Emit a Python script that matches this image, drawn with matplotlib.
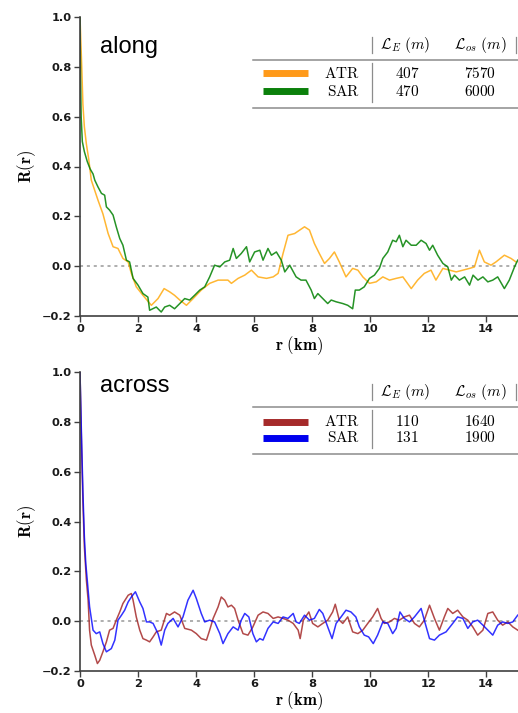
import numpy as np
import matplotlib as mpl
mpl.use('Agg')
import matplotlib.pyplot as plt
from matplotlib.lines import Line2D

plt.rcParams['mathtext.fontset'] = 'cm'

# autocorrelation R(r) read as (r [km], R) pairs
along_atr = [(0, 1.0), (0.03, 0.90), (0.06, 0.80), (0.10, 0.65), (0.15, 0.56), (0.22, 0.49),
             (0.30, 0.43), (0.39, 0.345), (0.62, 0.265), (0.79, 0.21), (0.97, 0.131), (1.14, 0.078),
             (1.31, 0.071), (1.48, 0.031), (1.66, 0.017), (1.77, -0.029), (1.94, -0.083), (2.17, -0.117),
             (2.46, -0.157), (2.69, -0.130), (2.90, -0.090), (3.09, -0.103), (3.26, -0.117), (3.44, -0.136),
             (3.67, -0.157), (3.90, -0.130), (4.18, -0.096), (4.47, -0.069), (4.76, -0.056), (5.10, -0.056),
             (5.22, -0.069), (5.45, -0.049), (5.68, -0.036), (5.91, -0.016), (6.14, -0.043), (6.43, -0.049),
             (6.66, -0.043), (6.83, -0.029), (7.00, 0.051), (7.17, 0.124), (7.40, 0.131), (7.74, 0.158),
             (7.91, 0.145), (8.08, 0.091), (8.25, 0.051), (8.43, 0.011), (8.60, 0.031), (8.77, 0.057),
             (8.94, 0.017), (9.17, -0.043), (9.40, -0.009), (9.58, -0.016), (9.75, -0.043), (9.98, -0.069),
             (10.21, -0.063), (10.44, -0.043), (10.67, -0.056), (10.90, -0.049), (11.13, -0.043), (11.42, -0.090),
             (11.64, -0.056), (11.87, -0.029), (12.10, -0.016), (12.27, -0.056), (12.51, -0.009), (12.74, -0.016),
             (12.97, -0.023), (13.20, -0.016), (13.43, -0.009), (13.60, -0.003), (13.77, 0.064), (13.94, 0.017),
             (14.17, 0.004), (14.34, 0.017), (14.63, 0.044), (14.86, 0.031), (15.03, 0.017)]

along_sar = [(0, 1.0), (0.02, 0.75), (0.04, 0.60), (0.08, 0.50), (0.15, 0.46), (0.25, 0.42),
             (0.35, 0.39), (0.45, 0.37), (0.51, 0.345), (0.62, 0.318), (0.74, 0.292), (0.85, 0.285),
             (0.91, 0.238), (1.02, 0.225), (1.14, 0.205), (1.25, 0.158), (1.37, 0.111), (1.48, 0.084),
             (1.60, 0.024), (1.71, 0.017), (1.83, -0.049), (2.00, -0.076), (2.17, -0.110), (2.34, -0.124),
             (2.40, -0.177), (2.63, -0.164), (2.80, -0.184), (2.92, -0.164), (3.09, -0.157), (3.26, -0.171),
             (3.44, -0.150), (3.61, -0.130), (3.78, -0.136), (3.95, -0.117), (4.13, -0.096), (4.30, -0.083),
             (4.47, -0.043), (4.64, 0.004), (4.82, -0.003), (4.99, 0.017), (5.16, 0.024), (5.28, 0.071),
             (5.39, 0.031), (5.56, 0.051), (5.74, 0.078), (5.85, 0.017), (6.02, 0.057), (6.20, 0.064),
             (6.31, 0.024), (6.48, 0.071), (6.60, 0.044), (6.77, 0.057), (6.94, 0.024), (7.06, -0.023),
             (7.23, 0.004), (7.45, -0.043), (7.62, -0.056), (7.79, -0.056), (7.97, -0.096), (8.08, -0.130),
             (8.20, -0.110), (8.37, -0.130), (8.54, -0.150), (8.66, -0.136), (8.83, -0.143), (9.06, -0.150),
             (9.23, -0.157), (9.40, -0.171), (9.49, -0.096), (9.63, -0.096), (9.80, -0.083), (9.98, -0.049),
             (10.15, -0.036), (10.32, -0.009), (10.44, 0.031), (10.61, 0.057), (10.78, 0.104), (10.90, 0.098),
             (11.01, 0.124), (11.13, 0.078), (11.24, 0.104), (11.42, 0.084), (11.59, 0.084), (11.76, 0.104),
             (11.93, 0.091), (12.05, 0.064), (12.16, 0.084), (12.33, 0.044), (12.51, 0.011), (12.68, -0.003),
             (12.80, -0.056), (12.91, -0.036), (13.08, -0.056), (13.26, -0.043), (13.43, -0.076), (13.55, -0.036),
             (13.72, -0.056), (13.89, -0.043), (14.06, -0.063), (14.23, -0.056), (14.40, -0.043), (14.63, -0.090),
             (14.80, -0.056), (14.98, -0.003), (15.09, 0.024)]

across_atr = [(0, 1.0), (0.05, 0.72), (0.10, 0.48), (0.15, 0.30), (0.22, 0.165), (0.28, 0.084),
              (0.33, -0.036), (0.39, -0.096), (0.51, -0.137), (0.60, -0.170), (0.68, -0.157), (0.79, -0.123),
              (0.91, -0.083), (1.02, -0.036), (1.14, -0.029), (1.25, 0.004), (1.37, 0.037), (1.48, 0.071),
              (1.66, 0.104), (1.77, 0.111), (1.83, 0.084), (1.94, 0.017), (2.06, -0.036), (2.17, -0.070),
              (2.29, -0.076), (2.40, -0.083), (2.52, -0.063), (2.63, -0.043), (2.80, -0.036), (2.98, 0.031),
              (3.09, 0.024), (3.26, 0.037), (3.44, 0.024), (3.61, -0.029), (3.84, -0.036), (4.01, -0.050),
              (4.18, -0.070), (4.36, -0.076), (4.47, -0.036), (4.59, 0.011), (4.76, 0.057), (4.87, 0.097),
              (4.99, 0.084), (5.10, 0.057), (5.22, 0.064), (5.33, 0.051), (5.45, 0.004), (5.62, -0.050),
              (5.79, -0.056), (5.96, -0.023), (6.14, 0.024), (6.31, 0.037), (6.48, 0.031), (6.66, 0.011),
              (6.83, 0.017), (7.00, 0.011), (7.17, 0.004), (7.35, -0.009), (7.52, -0.036), (7.59, -0.070),
              (7.70, 0.004), (7.89, 0.037), (8.02, -0.009), (8.20, -0.023), (8.37, -0.009), (8.54, 0.004),
              (8.71, 0.037), (8.80, 0.068), (8.94, 0.004), (9.06, -0.009), (9.23, 0.017), (9.40, -0.043),
              (9.58, -0.050), (9.75, -0.036), (9.92, -0.009), (10.09, 0.017), (10.26, 0.051), (10.38, 0.011),
              (10.49, -0.009), (10.67, -0.003), (10.84, 0.011), (11.01, 0.004), (11.18, 0.017), (11.36, 0.024),
              (11.53, -0.009), (11.70, -0.023), (11.87, 0.004), (12.05, 0.064), (12.22, 0.011), (12.39, -0.036),
              (12.56, 0.017), (12.68, 0.051), (12.85, 0.031), (13.02, 0.044), (13.20, 0.017), (13.37, 0.004),
              (13.54, -0.023), (13.71, -0.056), (13.89, -0.036), (14.06, 0.031), (14.23, 0.037), (14.40, 0.004),
              (14.57, -0.016), (14.75, -0.003), (14.92, -0.023), (15.09, -0.036)]

across_sar = [(0, 1.0), (0.05, 0.75), (0.10, 0.52), (0.15, 0.34), (0.20, 0.23), (0.25, 0.165),
              (0.33, 0.058), (0.45, -0.036), (0.56, -0.050), (0.68, -0.043), (0.79, -0.090), (0.91, -0.123),
              (1.08, -0.110), (1.20, -0.076), (1.31, 0.004), (1.43, 0.024), (1.54, 0.044), (1.66, 0.077),
              (1.77, 0.097), (1.91, 0.118), (2.06, 0.077), (2.17, 0.051), (2.29, -0.003), (2.40, -0.003),
              (2.52, -0.009), (2.69, -0.050), (2.80, -0.096), (2.92, -0.036), (3.03, -0.009), (3.21, 0.011),
              (3.38, -0.023), (3.55, 0.017), (3.72, 0.084), (3.90, 0.124), (4.01, 0.091), (4.18, 0.031),
              (4.30, -0.003), (4.47, 0.004), (4.64, -0.003), (4.82, -0.050), (4.93, -0.090), (5.10, -0.050),
              (5.28, -0.023), (5.45, -0.036), (5.56, 0.004), (5.68, 0.031), (5.82, 0.017), (5.96, -0.050),
              (6.08, -0.083), (6.20, -0.070), (6.31, -0.076), (6.48, -0.029), (6.66, -0.003), (6.83, -0.009),
              (7.00, 0.017), (7.17, 0.011), (7.35, 0.031), (7.45, -0.003), (7.56, -0.009), (7.74, 0.024),
              (7.91, 0.004), (8.08, 0.011), (8.25, 0.047), (8.37, 0.031), (8.54, -0.023), (8.69, -0.070),
              (8.83, -0.009), (9.00, 0.017), (9.17, 0.044), (9.34, 0.037), (9.51, 0.017), (9.63, -0.023),
              (9.80, -0.056), (9.95, -0.063), (10.11, -0.090), (10.26, -0.056), (10.44, -0.003), (10.61, -0.009),
              (10.78, -0.050), (10.90, -0.029), (11.03, 0.037), (11.18, 0.011), (11.36, -0.003), (11.53, 0.017),
              (11.76, 0.051), (11.87, 0.004), (12.05, -0.070), (12.22, -0.076), (12.39, -0.056), (12.62, -0.043),
              (12.85, -0.009), (13.02, 0.017), (13.20, 0.011), (13.37, -0.029), (13.54, -0.003), (13.71, 0.004),
              (13.89, -0.016), (14.06, -0.036), (14.23, -0.056), (14.40, -0.016), (14.57, -0.003), (14.75, -0.009),
              (14.92, -0.003), (15.09, 0.024)]

# correlation lengths (m): [L_E, L_os]
along_len = {'ATR': (407, 7570), 'SAR': (470, 6000)}
across_len = {'ATR': (110, 1640), 'SAR': (131, 1900)}

W, H = 518, 713
fig = plt.figure(figsize=(W / 100, H / 100), dpi=100)

def fx(px):
    return px / W

def fy(py):
    return 1 - py / H

def make_axes(top, bottom):
    return fig.add_axes([fx(80), fy(bottom), (518 - 80) / W, (bottom - top) / H])

def style(ax, name, name_y):
    ax.axhline(0, color='0.6', ls=(0, (2, 2.5)), lw=1.1, zorder=1)
    ax.set_xlim(0, 15.1)
    ax.set_ylim(-0.2, 1.0)
    ax.set_xticks(np.arange(0, 15, 2))
    ax.set_yticks(np.round(np.arange(-0.2, 1.01, 0.2), 1))
    for s in ['top', 'right']:
        ax.spines[s].set_visible(False)
    for s in ['left', 'bottom']:
        ax.spines[s].set_color('0.25')
        ax.spines[s].set_linewidth(1.2)
    ax.tick_params(direction='out', length=4, width=1, color='0.25', labelsize=8.2, pad=2, labelcolor='0.1')
    for t in ax.get_xticklabels() + ax.get_yticklabels():
        t.set_fontweight('bold')
    ax.set_ylabel(r'$\mathbf{R(r)}$', fontsize=12)
    ax.set_xlabel(r'$\mathbf{r\ (km)}$', fontsize=12)
    ax.yaxis.set_label_coords(-0.095, 0.5)
    ax.xaxis.set_label_coords(0.5, -0.06)
    ax.text(0.046, name_y, name, transform=ax.transAxes, fontsize=17,
            family='Liberation Sans', va='baseline')

def table(ys, colors, lengths):
    y_head, y_l1, y_r1, y_r2, y_l2 = ys
    g = '0.55'
    for y in (y_l1, y_l2):
        fig.add_artist(Line2D([fx(253), fx(518)], [fy(y), fy(y)], color=g, lw=1.1))
    fig.add_artist(Line2D([fx(372), fx(372)], [fy(y_head - 8), fy(y_head + 8)], color=g, lw=0.9))
    fig.add_artist(Line2D([fx(516), fx(516)], [fy(y_head - 8), fy(y_head + 8)], color=g, lw=0.9))
    fig.add_artist(Line2D([fx(372), fx(372)], [fy(y_l1 + 3), fy(y_l2 - 6)], color=g, lw=0.9))
    fig.text(fx(405), fy(y_head), r'$\mathcal{L}_E\ (m)$', ha='center', va='center', fontsize=11)
    fig.text(fx(480), fy(y_head), r'$\mathcal{L}_{os}\ (m)$', ha='center', va='center', fontsize=11)
    for (key, c), y in zip(colors, (y_r1, y_r2)):
        fig.add_artist(Line2D([fx(263), fx(308)], [fy(y), fy(y)], color=c, lw=5, solid_capstyle='butt'))
        fig.text(fx(360), fy(y), r'$\mathrm{%s}$' % key, ha='right', va='center', fontsize=11)
        le, los = lengths[key]
        fig.text(fx(407), fy(y), r'$%d$' % le, ha='center', va='center', fontsize=11)
        fig.text(fx(480), fy(y), r'$%d$' % los, ha='center', va='center', fontsize=11)

# along-track panel
ax1 = make_axes(17, 316)
r, R = np.array(along_atr).T
ax1.plot(r, R, color='orange', alpha=0.8, lw=1.1)
r, R = np.array(along_sar).T
ax1.plot(r, R, color='green', alpha=0.85, lw=1.1)
style(ax1, 'along', 0.88)
table((45, 60, 73, 91, 108), [('ATR', '#ff9a1a'), ('SAR', '#0b800b')], along_len)

# across-track panel
ax2 = make_axes(372, 671)
r, R = np.array(across_atr).T
ax2.plot(r, R, color='brown', alpha=0.85, lw=1.1)
r, R = np.array(across_sar).T
ax2.plot(r, R, color='blue', alpha=0.8, lw=1.1)
style(ax2, 'across', 0.933)
table((392, 407, 422, 438, 454), [('ATR', '#a52a2a'), ('SAR', '#0000ee')], across_len)

fig.savefig('out.png', dpi=100)
